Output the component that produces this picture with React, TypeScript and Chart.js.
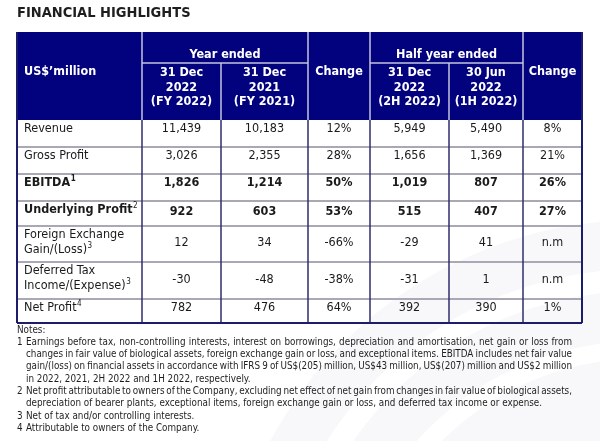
import React, { useEffect, useRef } from 'react';
import { Chart, registerables } from 'chart.js';
Chart.register(...registerables);

// ---------- data ----------
const title = 'FINANCIAL HIGHLIGHTS';
const unitLabel = 'US$\u2019million';
const groupLabels = ['Year ended', 'Half year ended'];
const columnHeads = [
  ['31 Dec', '2022', '(FY 2022)'],
  ['31 Dec', '2021', '(FY 2021)'],
  ['Change'],
  ['31 Dec', '2022', '(2H 2022)'],
  ['30 Jun', '2022', '(1H 2022)'],
  ['Change'],
];
const rowLabels = [
  ['Revenue'],
  ['Gross Profit'],
  ['EBITDA'],
  ['Underlying Profit'],
  ['Foreign Exchange', 'Gain/(Loss)'],
  ['Deferred Tax', 'Income/(Expense)'],
  ['Net Profit'],
];
const rowNotes = ['', '', '1', '2', '3', '3', '4'];
const boldRows = [false, false, true, true, false, false, false];
const fy2022 = [11439, 3026, 1826, 922, 12, -30, 782];
const fy2021 = [10183, 2355, 1214, 603, 34, -48, 476];
const fyChange = [12, 28, 50, 53, -66, -38, 64];
const h2_2022 = [5949, 1656, 1019, 515, -29, -31, 392];
const h1_2022 = [5490, 1369, 807, 407, 41, 1, 390];
const hChange: (number | null)[] = [8, 21, 26, 27, null, null, 1];

const notesHeading = 'Notes:';
const notes = [
  {
    num: '1',
    lines: [
      'Earnings before tax, non-controlling interests, interest on borrowings, depreciation and amortisation, net gain or loss from',
      'changes in fair value of biological assets, foreign exchange gain or loss, and exceptional items. EBITDA includes net fair value',
      'gain/(loss) on financial assets in accordance with IFRS 9 of US$(205) million, US$43 million, US$(207) million and US$2 million',
      'in 2022, 2021, 2H 2022 and 1H 2022, respectively.',
    ],
  },
  {
    num: '2',
    lines: [
      'Net profit attributable to owners of the Company, excluding net effect of net gain from changes in fair value of biological assets,',
      'depreciation of bearer plants, exceptional items, foreign exchange gain or loss, and deferred tax income or expense.',
    ],
  },
  { num: '3', lines: ['Net of tax and/or controlling interests.'] },
  { num: '4', lines: ['Attributable to owners of the Company.'] },
];

// ---------- layout ----------
const COL_EDGES = [17, 142, 221, 308, 370, 449, 523, 582];
const HEAD_TOP = 32;
const SUB_LINE = 63;
const ROW_EDGES = [120, 147, 174, 201, 226, 262, 299, 323];
const NAVY = '#02027f';
const FONT = '"DejaVu Sans Condensed", "DejaVu Sans", sans-serif';

const fmtNum = (v: number) => v.toLocaleString('en-US');
const fmtPct = (v: number | null) => (v === null ? 'n.m' : v + '%');

const tablePlugin = {
  id: 'financialTable',
  beforeDraw(chart: any) {
    const { ctx, width, height } = chart;
    const X = (v: number) => chart.scales.x.getPixelForValue(v);
    const Y = (v: number) => chart.scales.y.getPixelForValue(v);
    ctx.save();
    ctx.fillStyle = '#ffffff';
    ctx.fillRect(0, 0, width, height);
    // very faint decorative swoosh in the lower right
    ctx.beginPath();
    ctx.arc(X(640), Y(640), 420, 0, Math.PI * 2);
    ctx.fillStyle = '#f8f8fa';
    ctx.fill();
    ctx.strokeStyle = '#ffffff';
    ctx.lineWidth = 22;
    ctx.beginPath();
    ctx.arc(X(640), Y(640), 360, 0, Math.PI * 2);
    ctx.stroke();
    ctx.lineWidth = 18;
    ctx.beginPath();
    ctx.arc(X(640), Y(640), 290, 0, Math.PI * 2);
    ctx.stroke();
    ctx.restore();
  },
  afterDraw(chart: any) {
    const ctx: CanvasRenderingContext2D = chart.ctx;
    const X = (v: number) => chart.scales.x.getPixelForValue(v);
    const Y = (v: number) => chart.scales.y.getPixelForValue(v);

    const setFont = (size: number, bold = false) => {
      ctx.font = `${bold ? 'bold ' : ''}${size}px ${FONT}`;
    };
    const text = (
      s: string,
      x: number,
      y: number,
      size: number,
      bold: boolean,
      color: string,
      align: CanvasTextAlign = 'left'
    ) => {
      setFont(size, bold);
      ctx.fillStyle = color;
      ctx.textAlign = align;
      ctx.textBaseline = 'middle';
      ctx.fillText(s, X(x), Y(y));
      return ctx.measureText(s).width;
    };

    ctx.save();
    // title
    text(title, 17, 13, 14.5, true, '#1e1e1e');

    const tl = COL_EDGES[0];
    const tr = COL_EDGES[COL_EDGES.length - 1];
    const hb = ROW_EDGES[0];
    const bottom = ROW_EDGES[ROW_EDGES.length - 1];

    // header background
    ctx.fillStyle = NAVY;
    ctx.fillRect(X(tl), Y(HEAD_TOP), X(tr) - X(tl), Y(hb) - Y(HEAD_TOP));

    // header inner lines
    ctx.strokeStyle = '#c4c4dc';
    ctx.lineWidth = 1.5;
    const line = (x1: number, y1: number, x2: number, y2: number) => {
      ctx.beginPath();
      ctx.moveTo(X(x1), Y(y1));
      ctx.lineTo(X(x2), Y(y2));
      ctx.stroke();
    };
    line(COL_EDGES[1], HEAD_TOP, COL_EDGES[1], hb);
    line(COL_EDGES[3], HEAD_TOP, COL_EDGES[3], hb);
    line(COL_EDGES[4], HEAD_TOP, COL_EDGES[4], hb);
    line(COL_EDGES[6], HEAD_TOP, COL_EDGES[6], hb);
    line(COL_EDGES[2], SUB_LINE, COL_EDGES[2], hb);
    line(COL_EDGES[5], SUB_LINE, COL_EDGES[5], hb);
    line(COL_EDGES[1], SUB_LINE, COL_EDGES[3], SUB_LINE);
    line(COL_EDGES[4], SUB_LINE, COL_EDGES[6], SUB_LINE);

    // header texts
    const HS = 12.5;
    text(unitLabel, 24, 72, HS, true, '#ffffff');
    text(groupLabels[0], (COL_EDGES[1] + COL_EDGES[3]) / 2, 55, HS, true, '#ffffff', 'center');
    text(groupLabels[1], (COL_EDGES[4] + COL_EDGES[6]) / 2, 55, HS, true, '#ffffff', 'center');
    columnHeads.forEach((lines, i) => {
      const cx = (COL_EDGES[i + 1] + COL_EDGES[i + 2]) / 2;
      if (lines.length === 1) {
        text(lines[0], cx, 72, HS, true, '#ffffff', 'center');
      } else {
        lines.forEach((l, j) => text(l, cx, 73 + j * 14.5, HS, true, '#ffffff', 'center'));
      }
    });

    // body lines
    ctx.strokeStyle = '#a9a9b6';
    ctx.lineWidth = 2;
    for (let r = 1; r < ROW_EDGES.length - 1; r++) line(tl, ROW_EDGES[r], tr, ROW_EDGES[r]);
    ctx.strokeStyle = '#2e2e6e';
    ctx.lineWidth = 1.5;
    for (let c = 1; c < COL_EDGES.length - 1; c++) line(COL_EDGES[c], hb, COL_EDGES[c], bottom);
    ctx.strokeStyle = '#1c1c6a';
    ctx.lineWidth = 2;
    line(tl, HEAD_TOP, tl, bottom);
    line(tr, HEAD_TOP, tr, bottom);
    line(tl, bottom, tr, bottom);

    // body texts
    const BS = 12.5;
    const TC = '#1a1a1a';
    const cols = [fy2022.map(fmtNum), fy2021.map(fmtNum), fyChange.map(fmtPct), h2_2022.map(fmtNum), h1_2022.map(fmtNum), hChange.map(fmtPct)];
    rowLabels.forEach((lines, r) => {
      const top = ROW_EDGES[r];
      const bot = ROW_EDGES[r + 1];
      const bold = boldRows[r];
      let valueY = top + 9;
      if (lines.length > 1) valueY = (top + bot) / 2 - 1;
      if (r === 3) valueY = top + 11;
      lines.forEach((l, j) => {
        const ly = top + 9 + j * 15;
        const w = text(l, 24, ly, BS, bold, TC);
        if (j === lines.length - 1 && rowNotes[r]) {
          text(rowNotes[r], 24 + w + 0.5, ly - 4, 8, bold && r === 2, TC);
        }
      });
      cols.forEach((vals, c) => {
        const cx = (COL_EDGES[c + 1] + COL_EDGES[c + 2]) / 2;
        text(vals[r], cx, valueY, BS, bold, TC, 'center');
      });
    });

    // notes
    const NS = 9.8;
    const NC = '#1e1e1e';
    let ny = 330;
    text(notesHeading, 17, ny, NS, false, NC);
    ny += 12.3;
    const indent = 26;
    const rightEdge = 572;
    notes.forEach((n) => {
      text(n.num, 17, ny, NS, false, NC);
      n.lines.forEach((l, j) => {
        const justify = j < n.lines.length - 1;
        if (!justify) {
          text(l, indent, ny, NS, false, NC);
        } else {
          setFont(NS);
          const words = l.split(' ');
          const widths = words.map((w) => ctx.measureText(w).width);
          const total = widths.reduce((a, b) => a + b, 0);
          const gap = (X(rightEdge) - X(indent) - total) / (words.length - 1);
          let x = X(indent);
          ctx.fillStyle = NC;
          ctx.textAlign = 'left';
          ctx.textBaseline = 'middle';
          words.forEach((w, k) => {
            ctx.fillText(w, x, Y(ny));
            x += widths[k] + gap;
          });
        }
        ny += 12.3;
      });
    });
    ctx.restore();
  },
};

export default function App() {
  const ref = useRef<HTMLCanvasElement>(null);
  useEffect(() => {
    const chart = new Chart(ref.current as HTMLCanvasElement, {
      type: 'scatter',
      data: { datasets: [] },
      options: {
        animation: false,
        responsive: false,
        events: [],
        layout: { padding: 0 },
        plugins: {
          legend: { display: false },
          tooltip: { enabled: false },
          title: { display: false },
        },
        scales: {
          x: { type: 'linear', min: 0, max: 600, display: false },
          y: { type: 'linear', min: 0, max: 441, reverse: true, display: false },
        },
      },
      plugins: [tablePlugin],
    } as any);
    return () => chart.destroy();
  }, []);
  return (
    <div style={{ position: 'fixed', left: 0, top: 0, width: 600, height: 441, background: '#fff' }}>
      <canvas ref={ref} width={600} height={441} style={{ display: 'block' }} />
    </div>
  );
}
